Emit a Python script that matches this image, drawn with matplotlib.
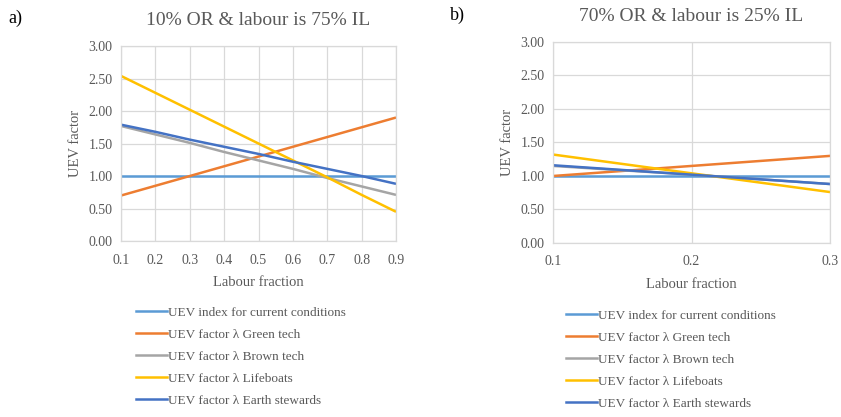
import matplotlib
matplotlib.use("Agg")
import matplotlib.pyplot as plt
from matplotlib.lines import Line2D

plt.rcParams['font.family'] = ['Liberation Serif', 'DejaVu Serif']

# panel a: 10% OR, labour is 75% IL
x_a = [0.1, 0.2, 0.3, 0.4, 0.5, 0.6, 0.7, 0.8, 0.9]
current_a = [1.00, 1.00, 1.00, 1.00, 1.00, 1.00, 1.00, 1.00, 1.00]
green_a = [0.70, 0.85, 1.00, 1.15, 1.30, 1.45, 1.60, 1.75, 1.90]
brown_a = [1.77, 1.64, 1.51, 1.37, 1.24, 1.11, 0.97, 0.84, 0.71]
lifeboats_a = [2.54, 2.28, 2.02, 1.76, 1.50, 1.24, 0.98, 0.71, 0.45]
earth_a = [1.79, 1.68, 1.56, 1.45, 1.34, 1.22, 1.11, 1.00, 0.88]

# panel b: 70% OR, labour is 25% IL
x_b = [0.1, 0.2, 0.3]
current_b = [1.00, 1.00, 1.00]
green_b = [1.00, 1.15, 1.30]
brown_b = [1.15, 1.02, 0.88]
lifeboats_b = [1.32, 1.04, 0.76]
earth_b = [1.16, 1.02, 0.88]

labels = [
    "UEV index for current conditions",
    "UEV factor λ Green tech",
    "UEV factor λ Brown tech",
    "UEV factor λ Lifeboats",
    "UEV factor λ Earth stewards",
]
colors = ["#5B9BD5", "#ED7D31", "#A5A5A5", "#FFC000", "#4472C4"]
y_ticks = [0.0, 0.5, 1.0, 1.5, 2.0, 2.5, 3.0]

text_col = "#595959"
grid_col = "#D9D9D9"

fig = plt.figure(figsize=(8.41, 4.17), dpi=100)


def setup(ax, xs, series, title):
    for ys, c in zip(series, colors):
        ax.plot(xs, ys, color=c, lw=1.8, solid_capstyle='butt')
    ax.set_xlim(xs[0], xs[-1])
    ax.set_ylim(0, 3)
    ax.set_xticks(xs)
    ax.set_xticklabels([f"{v:.1f}" for v in xs])
    ax.set_yticks(y_ticks)
    ax.set_yticklabels([f"{v:.2f}" for v in y_ticks])
    ax.grid(True, color=grid_col, lw=0.9)
    ax.set_axisbelow(True)
    for s in ax.spines.values():
        s.set_color(grid_col)
        s.set_linewidth(0.9)
    ax.tick_params(axis='y', length=0, labelsize=10, colors=text_col, pad=6)
    ax.tick_params(axis='x', length=0, labelsize=10, colors=text_col, pad=9)
    ax.set_xlabel("Labour fraction", fontsize=10.5, color=text_col, labelpad=7)
    ax.set_ylabel("UEV factor", fontsize=10.5, color=text_col, labelpad=5)
    ax.set_title(title, fontsize=14, color=text_col, pad=15)


ax1 = fig.add_axes([0.1439, 0.422, 0.327, 0.4676])
setup(ax1, x_a, [current_a, green_a, brown_a, lifeboats_a, earth_a],
      "10% OR & labour is 75% IL")

ax2 = fig.add_axes([0.6576, 0.4173, 0.3294, 0.482])
setup(ax2, x_b, [current_b, green_b, brown_b, lifeboats_b, earth_b],
      "70% OR & labour is 25% IL")

fig.text(8 / 841, 1 - 18 / 417, "a)", fontsize=13, va='center', ha='left')
fig.text(450 / 841, 1 - 15 / 417, "b)", fontsize=13, va='center', ha='left')

handles = [Line2D([], [], color=c, lw=1.8) for c in colors]
for anchor in [(131 / 841, 1 - 301 / 417), (561 / 841, 1 - 304 / 417)]:
    leg = fig.legend(handles, labels, loc='upper left', bbox_to_anchor=anchor,
                     frameon=False, fontsize=9.5, handlelength=2.3,
                     handletextpad=0.1, labelspacing=0.75, borderaxespad=0)
    for t in leg.get_texts():
        t.set_color(text_col)

fig.savefig("out.png", dpi=100)
